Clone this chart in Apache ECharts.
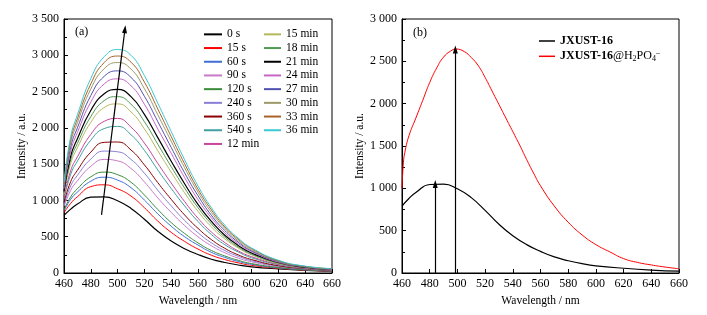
<!DOCTYPE html>
<html>
<head>
<meta charset="utf-8">
<script src="https://cdn.jsdelivr.net/npm/echarts@6/dist/echarts.min.js"></script>
<style>
  html, body { margin: 0; padding: 0; background: #fff; }
  #chart { width: 707px; height: 315px; }
</style>
</head>
<body>
<div id="chart"></div>
<script>
// wavelengths (nm) for panel (a)
const wl = [460, 465, 470, 480, 490, 500, 510, 520, 530, 540, 550, 560, 570, 580, 590, 600, 620, 640, 660];

const names = ['0 s', '15 s', '60 s', '90 s', '120 s', '240 s', '360 s', '540 s', '12 min',
  '15 min', '18 min', '21 min', '24 min', '27 min', '30 min', '33 min', '36 min'];
const colors = ['#000000', '#ff0000', '#3d6fd6', '#c77ac7', '#3a8c3a', '#8a7fd6', '#8b0000', '#40a0a0', '#c8459a',
  '#b5b85e', '#4f9a55', '#000000', '#c766c7', '#5050b0', '#9d9a6a', '#a8642a', '#3cc8d0'];

const t0s   = [795, 880, 950, 1045, 1050, 995, 890, 740, 575, 440, 335, 255, 190, 145, 110, 85, 56, 35, 22];
const t15s  = [830, 960, 1050, 1190, 1215, 1160, 1060, 900, 715, 560, 435, 330, 245, 185, 140, 105, 65, 40, 25];
const t60s  = [855, 1015, 1115, 1265, 1320, 1280, 1175, 1005, 815, 645, 500, 385, 285, 215, 160, 120, 70, 43, 27];
const t90s  = [915, 1140, 1270, 1470, 1565, 1545, 1440, 1255, 1035, 835, 655, 500, 375, 280, 205, 155, 85, 50, 30];
const t120s = [870, 1050, 1160, 1325, 1390, 1355, 1250, 1075, 875, 695, 545, 415, 310, 235, 175, 130, 75, 45, 28];
const t240s = [940, 1200, 1345, 1570, 1680, 1670, 1565, 1375, 1140, 925, 725, 555, 415, 310, 230, 170, 95, 55, 35];
const t360s = [970, 1260, 1415, 1665, 1800, 1805, 1695, 1490, 1245, 1015, 800, 615, 460, 340, 250, 185, 100, 60, 35];
const t540s = [1015, 1360, 1540, 1830, 1990, 2020, 1905, 1690, 1420, 1165, 925, 710, 530, 390, 290, 210, 115, 65, 40];
const t12m  = [1035, 1410, 1600, 1910, 2090, 2130, 2010, 1790, 1510, 1240, 985, 755, 565, 420, 305, 225, 120, 67, 42];
const t15m  = [1080, 1510, 1725, 2075, 2280, 2330, 2220, 1985, 1685, 1390, 1105, 850, 635, 470, 345, 250, 130, 75, 45];
const t18m  = [1105, 1560, 1785, 2155, 2375, 2430, 2325, 2085, 1775, 1465, 1170, 900, 675, 495, 360, 260, 135, 75, 48];
const t21m  = [1125, 1610, 1850, 2240, 2470, 2530, 2430, 2185, 1865, 1540, 1230, 945, 710, 520, 380, 275, 145, 80, 50];
const t24m  = [1160, 1680, 1935, 2355, 2605, 2675, 2580, 2325, 1985, 1650, 1315, 1010, 760, 555, 405, 295, 150, 85, 50];
const t27m  = [1185, 1735, 2000, 2445, 2710, 2785, 2695, 2435, 2085, 1730, 1380, 1065, 795, 585, 425, 305, 160, 85, 55];
const t30m  = [1210, 1790, 2070, 2535, 2815, 2900, 2810, 2540, 2180, 1815, 1450, 1115, 835, 615, 445, 320, 165, 90, 55];
const t33m  = [1230, 1835, 2125, 2605, 2900, 2990, 2905, 2630, 2260, 1880, 1505, 1155, 870, 635, 465, 335, 170, 90, 58];
const t36m  = [1250, 1880, 2180, 2680, 2980, 3080, 3000, 2720, 2340, 1950, 1560, 1200, 900, 660, 480, 345, 175, 95, 60];
const curves = [t0s, t15s, t60s, t90s, t120s, t240s, t360s, t540s, t12m, t15m, t18m, t21m, t24m, t27m, t30m, t33m, t36m];

// panel (b)
const wlB = [460, 465, 470, 480, 490, 500, 510, 520, 530, 540, 550, 560, 570, 580, 590, 600, 620, 640, 660];
const bareB = [790, 880, 950, 1045, 1050, 995, 890, 740, 575, 440, 335, 255, 190, 145, 110, 85, 56, 35, 22];
const wlRed = [460, 461, 462, 465, 470, 475, 480, 485, 490, 495, 499, 505, 510, 515, 520, 525, 530, 535, 540,
  545, 550, 555, 560, 570, 580, 590, 600, 610, 620, 630, 640, 650, 660];
const phosB = [1000, 1300, 1420, 1620, 1830, 2040, 2250, 2420, 2550, 2620, 2645, 2615, 2545, 2450, 2310, 2150, 1990,
  1830, 1670, 1510, 1340, 1180, 1030, 790, 600, 450, 335, 250, 170, 125, 95, 70, 50];

// arrows [x0, y0, x1, y1]
const arrowA = [488, 800, 505.5, 3360];
const arrowB1 = [484, 0, 484, 1050];
const arrowB2 = [498.5, 0, 498.5, 2640];

const font = 'Liberation Serif';

function fmt(v) {
  if (v < 1000) return String(v);
  return Math.floor(v / 1000) + ' ' + String(v % 1000).padStart(3, '0');
}
function pairs(xs, ys) { return xs.map((x, i) => [x, ys[i]]); }
function arrowLine(a) {
  return {
    silent: true, symbol: ['none', 'triangle'], symbolSize: [5, 8],
    label: { show: false },
    lineStyle: { color: '#000', width: 1.2, type: 'solid' },
    emphasis: { disabled: true },
    data: [[{ coord: [a[0], a[1]] }, { coord: [a[2], a[3]] }]]
  };
}

const xAxisBase = {
  type: 'value', min: 460, max: 660, interval: 20,
  name: 'Wavelength / nm', nameLocation: 'middle', nameGap: 20,
  nameTextStyle: { fontFamily: font, fontSize: 11.5, color: '#000' },
  axisLine: { show: true, lineStyle: { color: '#000', width: 1 } },
  axisTick: { show: true, inside: true, length: 4, lineStyle: { color: '#000' } },
  axisLabel: { fontFamily: font, fontSize: 12, color: '#000', margin: 5 },
  splitLine: { show: false }
};
const yAxisBase = {
  type: 'value', min: 0, interval: 500,
  name: 'Intensity / a.u.', nameLocation: 'middle', nameGap: 32,
  nameTextStyle: { fontFamily: font, fontSize: 11.5, color: '#000' },
  axisLine: { show: true, lineStyle: { color: '#000', width: 1 } },
  axisTick: { show: true, inside: true, length: 4, lineStyle: { color: '#000' } },
  minorTick: { show: true, splitNumber: 2, length: 3, lineStyle: { color: '#000' } },
  axisLabel: { fontFamily: font, fontSize: 12, color: '#000', margin: 5, formatter: fmt },
  splitLine: { show: false }
};

const series = curves.map((c, i) => ({
  name: names[i], type: 'line', xAxisIndex: 0, yAxisIndex: 0,
  data: pairs(wl, c), showSymbol: false, symbol: 'none',
  smooth: 0.5,
  lineStyle: { color: colors[i], width: i === 0 || i === 11 ? 1.2 : 1 },
  itemStyle: { color: colors[i] },
  z: 2 + i
}));
series[0].markLine = arrowLine(arrowA);
series[0].markLine.z = 30;

series.push({
  name: 'JXUST-16', type: 'line', xAxisIndex: 1, yAxisIndex: 1,
  data: pairs(wlB, bareB), showSymbol: false, symbol: 'none', smooth: 0.5,
  lineStyle: { color: '#000', width: 1.2 }, itemStyle: { color: '#000' },
  markLine: arrowLine(arrowB1)
});
series.push({
  name: 'JXUST-16@H2PO4', type: 'line', xAxisIndex: 1, yAxisIndex: 1,
  data: pairs(wlRed, phosB), showSymbol: false, symbol: 'none', smooth: 0.5,
  lineStyle: { color: '#ff0000', width: 1 }, itemStyle: { color: '#ff0000' },
  markLine: arrowLine(arrowB2)
});

const legendText = { fontFamily: font, fontSize: 11.5, color: '#000', lineHeight: 13.7 };

const option = {
  animation: false,
  backgroundColor: '#fff',
  grid: [
    { left: 64, top: 19, width: 268, height: 254, show: true, borderColor: '#000', borderWidth: 1 },
    { left: 402, top: 19, width: 277, height: 254, show: true, borderColor: '#000', borderWidth: 1 }
  ],
  xAxis: [
    Object.assign({}, xAxisBase, { gridIndex: 0 }),
    Object.assign({}, xAxisBase, { gridIndex: 1 })
  ],
  yAxis: [
    Object.assign({}, yAxisBase, { gridIndex: 0, max: 3500 }),
    Object.assign({}, yAxisBase, { gridIndex: 1, max: 3000 })
  ],
  legend: [
    {
      data: names.slice(0, 9), orient: 'vertical', left: 204, top: 27.5, itemGap: 0, padding: 0,
      itemWidth: 18, itemHeight: 2, icon: 'rect', textStyle: legendText
    },
    {
      data: names.slice(9), orient: 'vertical', left: 264, top: 27.5, itemGap: 0, padding: 0,
      itemWidth: 17, itemHeight: 2, icon: 'rect', textStyle: legendText
    },
    {
      data: ['JXUST-16', 'JXUST-16@H2PO4'], orient: 'vertical', left: 539, top: 35, itemGap: 2.3, padding: 0,
      itemWidth: 16, itemHeight: 1.5, icon: 'rect',
      formatter: function (n) {
        if (n === 'JXUST-16') return '{b|JXUST-16}';
        return '{b|JXUST-16}{n|@H}{s|2}{n|PO}{s|4}{p|\u2013}';
      },
      textStyle: {
        fontFamily: font, color: '#000',
        rich: {
          b: { fontFamily: font, fontSize: 12, fontWeight: 'bold', color: '#000', lineHeight: 14 },
          n: { fontFamily: font, fontSize: 12, color: '#000', lineHeight: 14 },
          s: { fontFamily: font, fontSize: 8, color: '#000', lineHeight: 14, verticalAlign: 'bottom', padding: [6, 0, 0, 0] },
          p: { fontFamily: font, fontSize: 8, color: '#000', lineHeight: 14, verticalAlign: 'top', padding: [0, 0, 6, 0] }
        }
      }
    }
  ],
  graphic: [
    { type: 'text', left: 75, top: 26, style: { text: '(a)', font: '12px "Liberation Serif"', fill: '#000' } },
    { type: 'text', left: 413, top: 27, style: { text: '(b)', font: '12px "Liberation Serif"', fill: '#000' } }
  ],
  series: series
};

const myChart = echarts.init(document.getElementById('chart'));
myChart.setOption(option);
</script>
</body>
</html>
